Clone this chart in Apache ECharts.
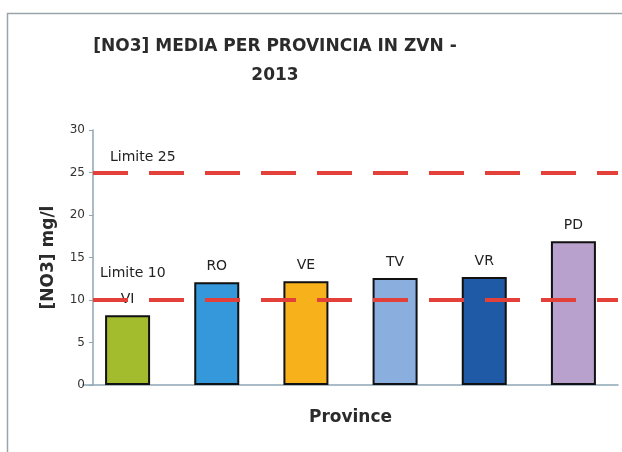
<!DOCTYPE html>
<html>
<head>
<meta charset="utf-8">
<script src="https://cdn.jsdelivr.net/npm/echarts@6/dist/echarts.min.js"></script>
<style>
  html, body { margin: 0; padding: 0; background: #fff; }
  #chart { width: 622px; height: 452px; }
</style>
</head>
<body>
<div id="chart"></div>
<script>
var provinces = ['VI', 'RO', 'VE', 'TV', 'VR', 'PD'];
var no3Values = [8.2, 12.1, 12.2, 12.6, 12.7, 16.9];
var barColors = ['#a2bc2e', '#3498da', '#f7b21b', '#8aaede', '#1f5aa6', '#b8a1cd'];
var limits = [25, 10];
var limitLabels = ['Limite 25', 'Limite 10'];

var myChart = echarts.init(document.getElementById('chart'));

var dashLine = {
  color: '#e4403a',
  width: 4,
  type: [35, 21],
  dashOffset: 46
};

myChart.setOption({
  animation: false,
  textStyle: { fontFamily: 'DejaVu Sans' },
  graphic: [{
    type: 'rect',
    shape: { x: 7.5, y: 13.5, width: 640, height: 460 },
    style: { fill: '#fff', stroke: '#9aa4ab', lineWidth: 1.5 },
    z: -10
  }],
  title: {
    text: '[NO3] MEDIA PER PROVINCIA IN ZVN -\n2013',
    left: 270,
    textAlign: 'center',
    top: 27,
    textStyle: {
      fontSize: 17,
      fontWeight: 'bold',
      color: '#2b2b2b',
      lineHeight: 29,
      fontFamily: 'DejaVu Sans'
    }
  },
  grid: { left: 83, right: 4, top: 130, bottom: 67 },
  xAxis: {
    type: 'category',
    data: provinces,
    name: 'Province',
    nameLocation: 'middle',
    nameGap: 24,
    nameTextStyle: { fontSize: 17, fontWeight: 'bold', color: '#2b2b2b' },
    axisLine: { lineStyle: { color: '#8fa6b6', width: 1.5 } },
    axisTick: { show: false },
    axisLabel: { show: false }
  },
  yAxis: {
    type: 'value',
    min: 0,
    max: 30,
    interval: 5,
    offset: -10,
    name: '[NO3] mg/l',
    nameLocation: 'middle',
    nameGap: 36,
    nameTextStyle: { fontSize: 17, fontWeight: 'bold', color: '#2b2b2b' },
    axisLine: { show: true, lineStyle: { color: '#8fa6b6', width: 1.5 } },
    axisTick: { show: true, length: 4, lineStyle: { color: '#8fa6b6' } },
    axisLabel: { fontSize: 12, color: '#333', margin: 8 },
    splitLine: { show: false }
  },
  series: [{
    type: 'bar',
    data: no3Values.map(function (v, i) {
      return { value: v, itemStyle: { color: barColors[i] } };
    }),
    barWidth: 45,
    itemStyle: { borderColor: '#111', borderWidth: 2 },
    label: {
      show: true,
      position: 'top',
      distance: 9,
      fontSize: 14,
      color: '#222',
      formatter: function (p) { return p.name; }
    },
    markLine: {
      symbol: 'none',
      silent: true,
      lineStyle: dashLine,
      data: limits.map(function (l, i) {
        return {
          yAxis: l,
          label: {
            show: true,
            formatter: limitLabels[i],
            position: 'insideStartTop',
            distance: i === 0 ? [27, 8] : [17, 20],
            fontSize: 14,
            color: '#222'
          }
        };
      })
    }
  }]
});
</script>
</body>
</html>
